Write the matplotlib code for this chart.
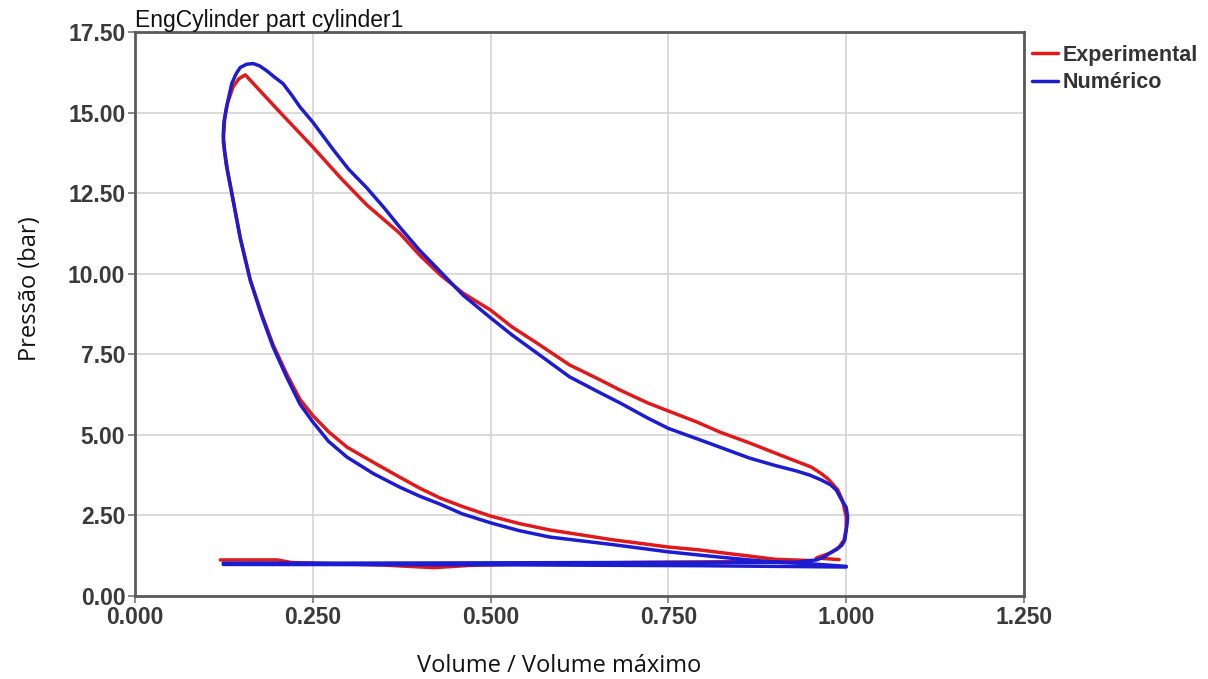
import matplotlib
matplotlib.use("Agg")
import matplotlib.pyplot as plt
from matplotlib.ticker import FormatStrFormatter

# --- data ---
# Experimental (red): closed loop + low-pressure gas exchange line
exp_loop_x = [0.95, 0.90, 0.864, 0.83, 0.794, 0.75, 0.67, 0.583, 0.54, 0.50, 0.46, 0.429,
              0.40, 0.372, 0.335, 0.298, 0.272, 0.25, 0.232, 0.213, 0.194, 0.178, 0.162,
              0.148, 0.136, 0.128, 0.124, 0.126, 0.130, 0.138, 0.146, 0.155,
              0.20, 0.25, 0.29, 0.326, 0.372, 0.40, 0.43, 0.461, 0.50, 0.53, 0.565,
              0.611, 0.65, 0.682, 0.721, 0.75, 0.79, 0.822, 0.864, 0.91, 0.951, 0.965,
              0.975, 0.988, 0.995, 1.0, 1.0, 0.997, 0.99, 0.977, 0.958, 0.99]
exp_loop_y = [1.10, 1.14, 1.24, 1.33, 1.43, 1.52, 1.75, 2.05, 2.25, 2.48, 2.78, 3.04,
              3.35, 3.69, 4.15, 4.62, 5.10, 5.60, 6.10, 6.90, 7.80, 8.75, 9.80,
              11.1, 12.5, 13.4, 14.1, 14.8, 15.3, 15.8, 16.05, 16.17,
              15.1, 13.93, 12.95, 12.13, 11.26, 10.58, 9.95, 9.40, 8.87, 8.35, 7.85,
              7.17, 6.75, 6.39, 5.99, 5.74, 5.40, 5.09, 4.75, 4.35, 4.00, 3.80,
              3.62, 3.30, 2.95, 2.45, 2.10, 1.74, 1.52, 1.33, 1.18, 1.13]
exp_base_x = [0.12, 0.20, 0.22, 0.35, 0.42, 0.47, 0.60, 0.75, 0.95]
exp_base_y = [1.12, 1.12, 1.04, 0.96, 0.88, 0.95, 1.02, 1.05, 1.08]

# Numérico (blue)
num_loop_x = [1.0, 0.95, 0.90, 0.864, 0.83, 0.794, 0.75, 0.67, 0.583, 0.54, 0.50, 0.46,
              0.429, 0.40, 0.372, 0.335, 0.298, 0.272, 0.25, 0.232, 0.213, 0.194, 0.178,
              0.162, 0.148, 0.136, 0.130, 0.126, 0.124, 0.125, 0.128, 0.132, 0.136,
              0.142, 0.148, 0.157, 0.166, 0.175, 0.185, 0.196, 0.208, 0.22, 0.232, 0.25,
              0.279, 0.30, 0.326, 0.35, 0.372, 0.40, 0.43, 0.461, 0.50, 0.53, 0.565,
              0.611, 0.65, 0.682, 0.721, 0.75, 0.80, 0.864, 0.90, 0.93, 0.949, 0.965,
              0.978, 0.986, 0.993, 1.0, 1.002, 1.001, 0.998, 0.994, 0.987, 0.977, 0.968,
              0.958, 0.93, 0.70, 0.50, 0.30, 0.124]
num_loop_y = [0.92, 1.00, 1.05, 1.12, 1.19, 1.27, 1.37, 1.60, 1.83, 2.03, 2.27, 2.55,
              2.85, 3.10, 3.38, 3.80, 4.31, 4.80, 5.40, 5.95, 6.80, 7.73, 8.70,
              9.80, 11.1, 12.5, 13.2, 13.8, 14.3, 14.7, 15.1, 15.5, 15.9,
              16.2, 16.4, 16.5, 16.52, 16.45, 16.3, 16.1, 15.9, 15.55, 15.17, 14.7,
              13.84, 13.25, 12.66, 12.05, 11.45, 10.73, 10.05, 9.34, 8.63, 8.10, 7.54,
              6.80, 6.35, 5.99, 5.52, 5.20, 4.80, 4.28, 4.05, 3.88, 3.75, 3.60,
              3.45, 3.29, 3.00, 2.75, 2.45, 2.20, 1.74, 1.58, 1.45, 1.33, 1.20,
              1.12, 1.05, 1.04, 1.03, 1.02, 1.02]
num_base_x = [0.124, 0.50, 0.80, 1.0]
num_base_y = [0.98, 0.97, 0.94, 0.90]

x_ticks = [0.0, 0.25, 0.5, 0.75, 1.0, 1.25]
y_ticks = [0.0, 2.5, 5.0, 7.5, 10.0, 12.5, 15.0, 17.5]

red = '#e0191b'
blue = '#1c1cd0'

fig = plt.figure(figsize=(12.08, 6.79), dpi=100)
ax = fig.add_axes([0.1118, 0.1222, 0.7359, 0.8307])

kw = dict(lw=2.5, solid_joinstyle='round', solid_capstyle='round')
ax.plot(exp_base_x, exp_base_y, color=red, **kw)
ax.plot(num_base_x, num_base_y, color=blue, **kw)
ax.plot(exp_loop_x, exp_loop_y, color=red, label='Experimental', **kw)
ax.plot(num_loop_x, num_loop_y, color=blue, label='Numérico', **kw)

ax.set_xlim(0, 1.25)
ax.set_ylim(0, 17.5)
ax.set_xticks(x_ticks)
ax.set_yticks(y_ticks)
ax.xaxis.set_major_formatter(FormatStrFormatter('%.3f'))
ax.yaxis.set_major_formatter(FormatStrFormatter('%.2f'))
ax.grid(True, color='#d4d4d4', lw=1.2)
ax.set_axisbelow(True)

for lab in ax.get_xticklabels() + ax.get_yticklabels():
    lab.set_fontfamily('Liberation Sans')
    lab.set_fontweight('bold')
    lab.set_fontsize(16.5)
    lab.set_color('#3a3a3a')
ax.tick_params(axis='both', direction='out', length=5, width=1.2, color='#777777', pad=2)

for s in ax.spines.values():
    s.set_color('#5a5a5a')
    s.set_linewidth(2)

ax.set_title('EngCylinder part cylinder1', loc='left', fontsize=16.5, family='Liberation Sans',
             pad=1, color='#111111')

ax.set_xlabel('Volume / Volume máximo', fontsize=17, family='Open Sans', color='#111111')
ax.set_ylabel('Pressão (bar)', fontsize=17, family='Open Sans', color='#111111')
ax.xaxis.set_label_coords(0.477, -0.102)
ax.yaxis.set_label_coords(-0.105, 0.545)

leg = ax.legend(loc='upper left', bbox_to_anchor=(0.995, 1.0), frameon=False,
                handlelength=1.2, handletextpad=0.2, labelspacing=0.3, borderaxespad=0.2,
                prop={'family': 'Liberation Sans', 'weight': 'bold', 'size': 15.5})
for t in leg.get_texts():
    t.set_color('#333333')

fig.savefig('out.png', dpi=100)
